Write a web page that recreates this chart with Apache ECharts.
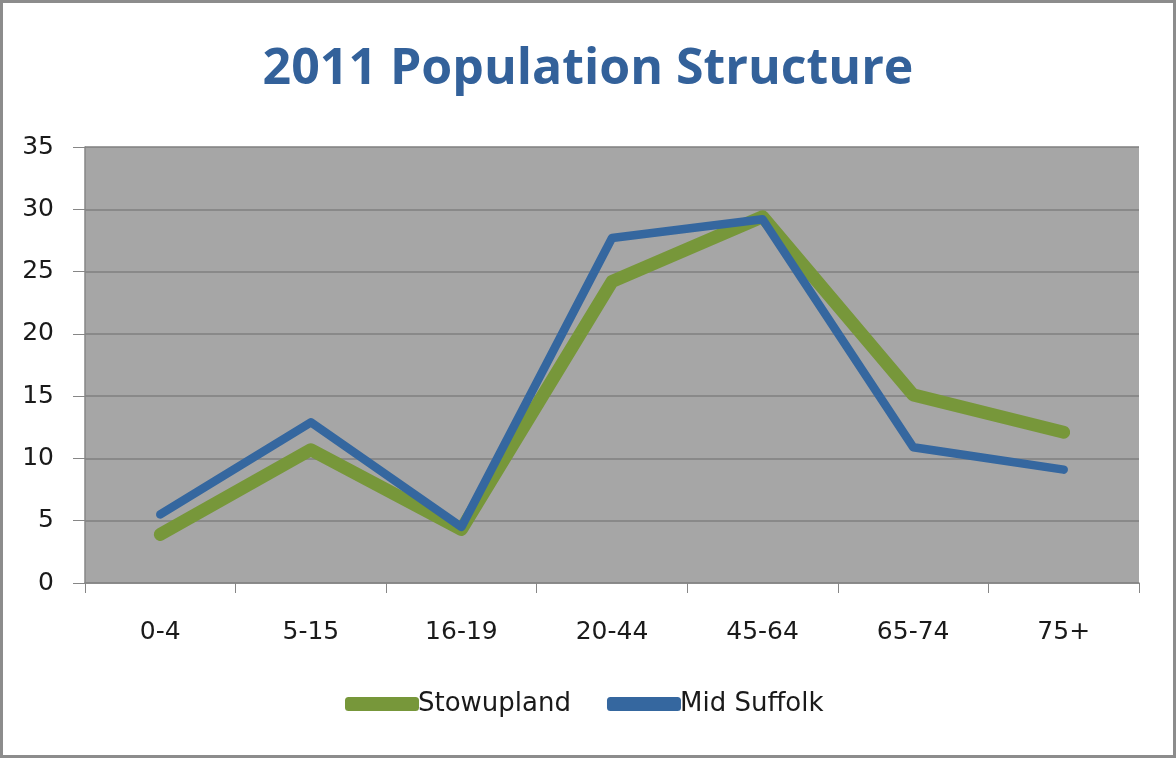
<!DOCTYPE html>
<html>
<head>
<meta charset="utf-8">
<script src="https://cdn.jsdelivr.net/npm/echarts@6/dist/echarts.min.js"></script>
<style>
html,body{margin:0;padding:0;background:#fff;}
#chart{width:1176px;height:758px;position:absolute;left:0;top:0;}
#frame{position:absolute;left:0;top:0;width:1170px;height:752px;border:3px solid #8c8c8c;pointer-events:none;box-shadow:0 2px 0 #2b3a4a;}
</style>
</head>
<body>
<div id="chart"></div>
<div id="frame"></div>
<script>
var titleText = '2011 Population Structure';
var categories = ['0-4', '5-15', '16-19', '20-44', '45-64', '65-74', '75+'];
var stowupland = [3.9, 10.7, 4.3, 24.2, 29.4, 15.1, 12.1];
var midSuffolk = [5.5, 12.9, 4.5, 27.7, 29.2, 10.9, 9.1];
var seriesNames = ['Stowupland', 'Mid Suffolk'];

var chart = echarts.init(document.getElementById('chart'), null, {renderer: 'canvas'});
var labelFont = 'DejaVu Sans';
chart.setOption({
  animation: false,
  backgroundColor: '#ffffff',
  title: {
    text: titleText,
    left: 'center',
    top: 40,
    textStyle: {
      fontFamily: 'Open Sans, sans-serif',
      fontWeight: 'bold',
      fontSize: 50,
      color: '#33619A'
    }
  },
  legend: {
    bottom: 36,
    left: 340,
    itemWidth: 74,
    itemHeight: 14,
    itemGap: 36,
    icon: 'roundRect',
    textStyle: {fontFamily: labelFont, fontSize: 26, color: '#1a1a1a', padding: [0,0,0,-6]},
    data: [
      {name: seriesNames[0], itemStyle: {color: '#77973A'}},
      {name: seriesNames[1], itemStyle: {color: '#35679F'}}
    ]
  },
  grid: {left: 85, right: 37, top: 147, bottom: 175, show: true, backgroundColor: '#A6A6A6', borderWidth: 0},
  xAxis: {
    type: 'category',
    data: categories,
    boundaryGap: true,
    axisLine: {lineStyle: {color: '#868686', width: 1.5}},
    axisTick: {show: true, length: 10, lineStyle: {color: '#868686'}},
    axisLabel: {fontFamily: labelFont, fontSize: 25, color: '#1a1a1a', margin: 37}
  },
  yAxis: {
    type: 'value',
    min: 0, max: 35, interval: 5,
    axisLine: {show: true, lineStyle: {color: '#868686', width: 1.5}},
    axisTick: {show: true, length: 12, lineStyle: {color: '#868686'}},
    splitLine: {lineStyle: {color: '#7f7f7f', width: 1.5}},
    axisLabel: {fontFamily: labelFont, fontSize: 25, color: '#1a1a1a', margin: 31}
  },
  series: [
    {
      name: seriesNames[0], type: 'line', data: stowupland,
      symbol: 'none', color: '#77973A',
      lineStyle: {width: 13, color: '#77973A', cap: 'round', join: 'round'}
    },
    {
      name: seriesNames[1], type: 'line', data: midSuffolk,
      symbol: 'none', color: '#35679F',
      lineStyle: {width: 8.5, color: '#35679F', cap: 'round', join: 'round'}
    }
  ]
});
</script>
</body>
</html>
